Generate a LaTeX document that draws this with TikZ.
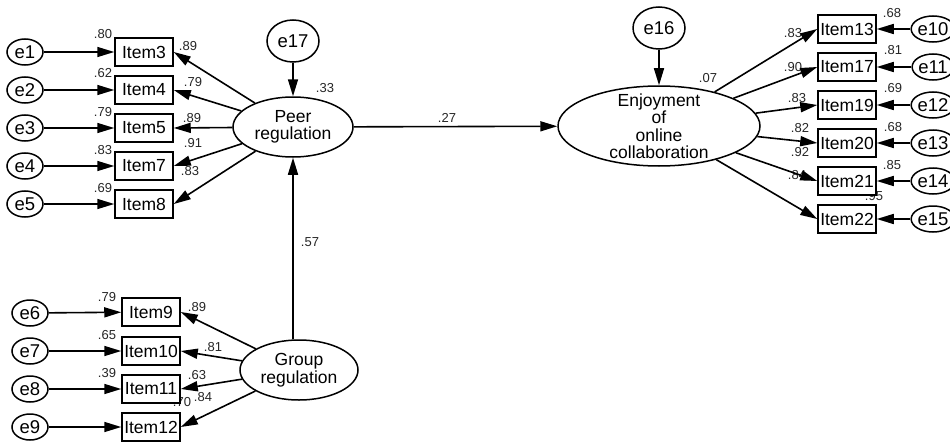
\documentclass[tikz,border=0pt]{standalone}
\usepackage{fontspec}
\setmainfont{Liberation Sans}
\usetikzlibrary{arrows.meta,shapes.geometric}
\begin{document}
\begin{tikzpicture}[x=1pt,y=-1pt,
  lat/.style={draw,ellipse,line width=1.5pt,inner sep=0pt},
  lattext/.style={align=center,font=\fontsize{17.5}{17.5}\selectfont},
  err/.style={draw,ellipse,line width=1.5pt,fill=white,minimum width=36pt,minimum height=26pt,inner sep=0pt,font=\fontsize{18.5}{18.5}\selectfont},
  errbig/.style={err,minimum width=52pt,minimum height=42pt},
  itembox/.style={draw,rectangle,line width=1.5pt,fill=white,minimum width=58pt,minimum height=28pt,inner sep=0pt,font=\fontsize{17.5}{17.5}\selectfont},
  num/.style={font=\fontsize{13}{13}\selectfont,inner sep=0pt,text=black!85},
  arr/.style={line width=1.6pt,-{Triangle[length=17pt,width=10pt]}}
]
\useasboundingbox (0,0) rectangle (950,444);
\fill[white] (0,0) rectangle (950,444);

% ---- numeric labels (drawn first, so boxes/arrows may cover them)
\node[num] at (103,34) {.80};
\node[num] at (103,73) {.62};
\node[num] at (103,112) {.79};
\node[num] at (103,150) {.83};
\node[num] at (103,188) {.69};
\node[num] at (188,46) {.89};
\node[num] at (193,82) {.79};
\node[num] at (192,118) {.89};
\node[num] at (193,143) {.91};
\node[num] at (190,171) {.83};
\node[num] at (325,88) {.33};
\node[num] at (447,118) {.27};
\node[num] at (310,242) {.57};
\node[num] at (708,78) {.07};
\node[num] at (793,33) {.83};
\node[num] at (793,67) {.90};
\node[num] at (797,98) {.83};
\node[num] at (800,128) {.82};
\node[num] at (800,152) {.92};
\node[num] at (797,175) {.84};
\node[num] at (892,13) {.68};
\node[num] at (893,50) {.81};
\node[num] at (893,88) {.69};
\node[num] at (893,127) {.68};
\node[num] at (892,165) {.85};
\node[num] at (874,196) {.95};
\node[num] at (107,297) {.79};
\node[num] at (107,335) {.65};
\node[num] at (107,373) {.39};
\node[num] at (182,402) {.70};
\node[num] at (197,307) {.89};
\node[num] at (213,347) {.81};
\node[num] at (197,375) {.63};
\node[num] at (203,397) {.84};

% ---- latent variables
\node[lat,minimum width=120pt,minimum height=60pt,label={[lattext]center:Peer\\regulation}] (peer) at (293,127) {};
\node[lat,minimum width=202pt,minimum height=80pt,label={[lattext]center:Enjoyment\\of\\online\\collaboration}] (enj) at (659,126) {};
\node[lat,minimum width=118pt,minimum height=60pt,label={[lattext]center:Group\\regulation}] (grp) at (299,370) {};

% ---- error terms of latent variables
\node[errbig] (e17) at (293,41) {e17};
\node[errbig] (e16) at (659,28) {e16};

% ---- peer regulation indicators
\node[itembox] (i3) at (144,52) {Item3};
\node[itembox] (i4) at (144,90) {Item4};
\node[itembox] (i5) at (144,128) {Item5};
\node[itembox] (i7) at (144,166) {Item7};
\node[itembox] (i8) at (144,204) {Item8};
\node[err] (e1) at (25,52) {e1};
\node[err] (e2) at (25,90) {e2};
\node[err] (e3) at (25,128) {e3};
\node[err] (e4) at (25,166) {e4};
\node[err] (e5) at (25,204) {e5};

% ---- enjoyment indicators
\node[itembox] (i13) at (847,29) {Item13};
\node[itembox] (i17) at (847,67) {Item17};
\node[itembox] (i19) at (847,105) {Item19};
\node[itembox] (i20) at (847,143) {Item20};
\node[itembox] (i21) at (847,181) {Item21};
\node[itembox] (i22) at (847,219) {Item22};
\node[err] (e10) at (933,29) {e10};
\node[err] (e11) at (933,67) {e11};
\node[err] (e12) at (933,105) {e12};
\node[err] (e13) at (933,143) {e13};
\node[err] (e14) at (933,181) {e14};
\node[err] (e15) at (933,219) {e15};

% ---- group regulation indicators
\node[itembox] (i9) at (151,312) {Item9};
\node[itembox] (i10) at (151,351) {Item10};
\node[itembox] (i11) at (151,389) {Item11};
\node[itembox] (i12) at (151,427) {Item12};
\node[err] (e6) at (30,313) {e6};
\node[err] (e7) at (30,351) {e7};
\node[err] (e8) at (30,389) {e8};
\node[err] (e9) at (30,427) {e9};

% ---- arrows
\draw[arr] (e17) -- (peer);
\draw[arr] (e16) -- (enj);
\draw[arr] (peer) -- (enj);
\draw[arr] (peer.south |- grp.north) -- (peer.south);

\foreach \e/\i in {e1/i3,e2/i4,e3/i5,e4/i7,e5/i8,e6/i9,e7/i10,e8/i11,e9/i12}
  \draw[arr] (\e) -- (\i);
\foreach \e/\i in {e10/i13,e11/i17,e12/i19,e13/i20,e14/i21,e15/i22}
  \draw[arr] (\e) -- (\i);

\foreach \i in {i3,i4,i5,i7,i8}
  \draw[arr] (peer) -- (\i.east);
\foreach \i in {i9,i10,i11,i12}
  \draw[arr] (grp) -- (\i.east);
\foreach \i in {i13,i17,i19,i20,i21,i22}
  \draw[arr] (enj) -- (\i.west);
\end{tikzpicture}
\end{document}
